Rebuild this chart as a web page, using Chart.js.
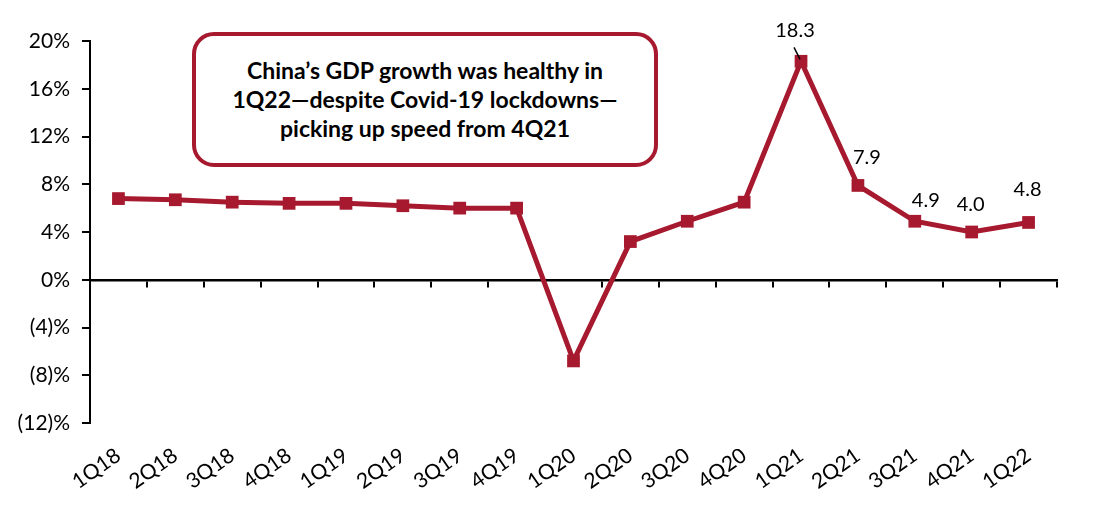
<!DOCTYPE html>
<html>
<head>
<meta charset="utf-8">
<script src="https://cdn.jsdelivr.net/npm/chart.js@4.4.0/dist/chart.umd.min.js"></script>
<style>
  body { margin: 0; background: #fff; }
  #wrap { position: relative; width: 1103px; height: 509px; }
  #note {
    position: absolute; left: 192px; top: 32px; width: 458px; height: 127px;
    border: 4px solid #A6192E; border-radius: 22px; background: #fff;
    font: bold 23px Lato, "Open Sans", sans-serif; color: #000;
    display: flex; align-items: center; justify-content: center; text-align: center;
    line-height: 29px;
  }
</style>
</head>
<body>
<div id="wrap">
  <canvas id="gdpChart" width="1103" height="509"></canvas>
  <div id="note">China’s GDP growth was healthy in<br>1Q22—despite Covid-19 lockdowns—<br>picking up speed from 4Q21</div>
</div>
<script>
const quarters = ['1Q18', '2Q18', '3Q18', '4Q18', '1Q19', '2Q19', '3Q19', '4Q19', '1Q20', '2Q20', '3Q20', '4Q20', '1Q21', '2Q21', '3Q21', '4Q21', '1Q22'];
const gdpGrowth = [6.8, 6.7, 6.5, 6.4, 6.4, 6.2, 6.0, 6.0, -6.8, 3.2, 4.9, 6.5, 18.3, 7.9, 4.9, 4.0, 4.8];
const labelledPoints = ['1Q21', '2Q21', '3Q21', '4Q21', '1Q22'];

// where each value label sits relative to its point
const labelOffsets = {
    '1Q21': [-6, -31],
    '2Q21': [9, -28],
    '3Q21': [11, -21],
    '4Q21': [-1, -27],
    '1Q22': [-1, -33],
};

const red = '#A6192E';
const tickFont = { family: 'Lato', size: 21 };

const valueLabels = {
    id: 'valueLabels',
    afterDatasetsDraw(chart) {
        const ctx = chart.ctx;
        const meta = chart.getDatasetMeta(0);
        ctx.save();
        ctx.font = '20px Lato';
        ctx.fillStyle = '#000';
        ctx.textAlign = 'center';
        ctx.textBaseline = 'middle';
        labelledPoints.forEach(q => {
            const i = quarters.indexOf(q);
            const pt = meta.data[i];
            const off = labelOffsets[q];
            ctx.fillText(gdpGrowth[i].toFixed(1), pt.x + off[0], pt.y + off[1]);
            if (q === '1Q21') {
                // small leader line from the label down to the peak
                ctx.strokeStyle = '#000';
                ctx.lineWidth = 1.5;
                ctx.beginPath();
                ctx.moveTo(pt.x - 7, pt.y - 14);
                ctx.lineTo(pt.x - 1, pt.y - 2);
                ctx.stroke();
            }
        });
        ctx.restore();
    }
};

new Chart(document.getElementById('gdpChart'), {
    type: 'line',
    data: {
        labels: quarters,
        datasets: [{
            data: gdpGrowth,
            borderColor: red,
            backgroundColor: red,
            borderWidth: 5,
            pointStyle: 'rect',
            pointRadius: 9,
            pointBorderWidth: 0,
            tension: 0,
        }]
    },
    options: {
        responsive: false,
        animation: false,
        layout: { padding: { top: 41, right: 46, left: 0, bottom: 0 } },
        plugins: {
            legend: { display: false },
            tooltip: { enabled: false },
        },
        scales: {
            x: {
                type: 'category',
                position: { y: 0 },
                offset: true,
                grid: {
                    offset: true,
                    drawOnChartArea: false,
                    drawTicks: true,
                    tickLength: 6,
                    color: '#000',
                    lineWidth: 2,
                },
                border: { color: '#000', width: 2.5 },
                ticks: { display: false },
            },
            x2: {
                type: 'category',
                position: 'bottom',
                offset: true,
                grid: { display: false, drawTicks: false },
                border: { display: false },
                ticks: {
                    color: '#000',
                    font: tickFont,
                    minRotation: 35,
                    maxRotation: 35,
                    padding: 20,
                },
                afterFit(scale) { scale.height = 86; },
            },
            y: {
                min: -12,
                max: 20,
                ticks: {
                    stepSize: 4,
                    color: '#000',
                    font: tickFont,
                    padding: 12,
                    callback: v => v < 0 ? '(' + (-v) + ')%' : v + '%',
                },
                grid: {
                    drawOnChartArea: false,
                    drawTicks: true,
                    tickLength: 8,
                    color: '#000',
                    lineWidth: 2,
                },
                border: { color: '#000', width: 2 },
                afterFit(scale) { scale.width = 90; },
            }
        }
    },
    plugins: [valueLabels],
});
</script>
</body>
</html>
